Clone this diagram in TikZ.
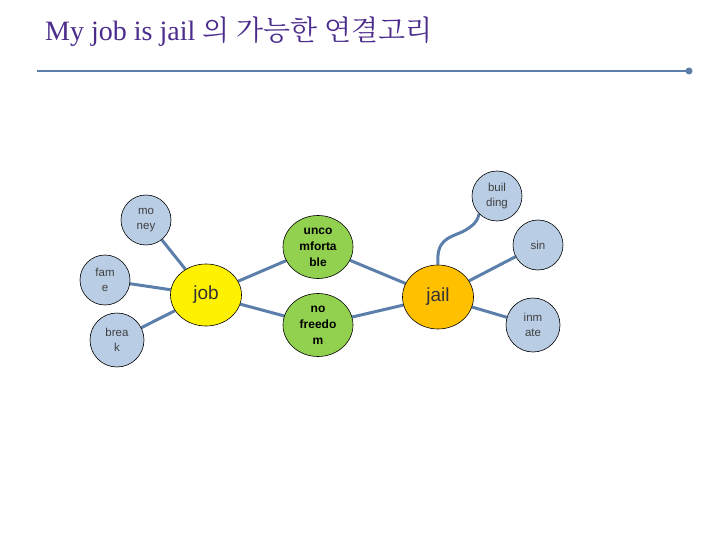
\documentclass[tikz,border=0pt]{standalone}
\usepackage{fontspec}
\setmainfont{Liberation Sans}
\newfontfamily\kor{Noto Serif CJK KR}
\newfontfamily\ser{Liberation Serif}
\usetikzlibrary{shapes.geometric,backgrounds}
\definecolor{lb}{HTML}{B9CDE5}
\definecolor{ln}{HTML}{5B7FAA}
\definecolor{gr}{HTML}{92D050}
\definecolor{og}{HTML}{FFC000}
\definecolor{tt}{HTML}{4B2C8C}
\begin{document}
\begin{tikzpicture}[x=1pt,y=-1pt,
  sm/.style={ellipse,draw=black,line width=0.6pt,fill=lb,minimum width=50,minimum height=50,inner sep=0pt,align=center,font=\fontsize{11.5}{15}\selectfont,text=black!75},
  md/.style={ellipse,draw=black,line width=0.6pt,fill=gr,minimum width=70,minimum height=63,inner sep=0pt,align=center,font=\fontsize{12}{16}\selectfont\bfseries},
  bg/.style={ellipse,draw=black,line width=0.6pt,minimum width=71,minimum height=62,inner sep=0pt,font=\fontsize{19}{21}\selectfont,text=black!80},
  cn/.style={ln,line width=3pt}]
\useasboundingbox (0,0) rectangle (720,540);
\node[anchor=west,text=tt,font=\fontsize{28}{30}\selectfont,inner sep=0pt] (title) at (45,32) {\ser My job is jail \kor 의 가능한 연결고리};
\coordinate (l1) at (37,71); \coordinate (l2) at (689,71);
\draw[ln,line width=2.5pt] (l1) -- (l2);
\fill[ln] (l2) circle (3.5);
\node[sm] (money) at (146,220) {mo\\ney};
\node[sm] (fame) at (105,280) {fam\\e};
\node[sm,minimum width=54,minimum height=54] (break) at (117,340) {brea\\k};
\node[bg,fill=yellow] (job) at (206,295) {job};
\node[md] (unco) at (318,247) {unco\\mforta\\ble};
\node[md] (nof) at (318,325) {no\\freedo\\m};
\node[bg,fill=og,minimum height=64] (jail) at (438,297) {jail};
\node[sm] (bld) at (497,196) {buil\\ding};
\node[sm] (sin) at (538,245) {sin};
\node[sm,minimum width=54,minimum height=54] (inm) at (533,325) {inm\\ate};
\begin{pgfonlayer}{background}
\draw[cn] (money) -- (job);
\draw[cn] (fame) -- (job);
\draw[cn] (break) -- (job);
\draw[cn] (job) -- (unco);
\draw[cn] (job) -- (nof);
\draw[cn] (unco) -- (jail);
\draw[cn] (nof) -- (jail);
\draw[cn] (jail) -- (sin);
\draw[cn] (jail) -- (inm);
\draw[cn] (jail.north) .. controls (436,240) and (448,238) .. (462,232) .. controls (474,226) and (478,220) .. (bld.south west);
\end{pgfonlayer}
\end{tikzpicture}
\end{document}
